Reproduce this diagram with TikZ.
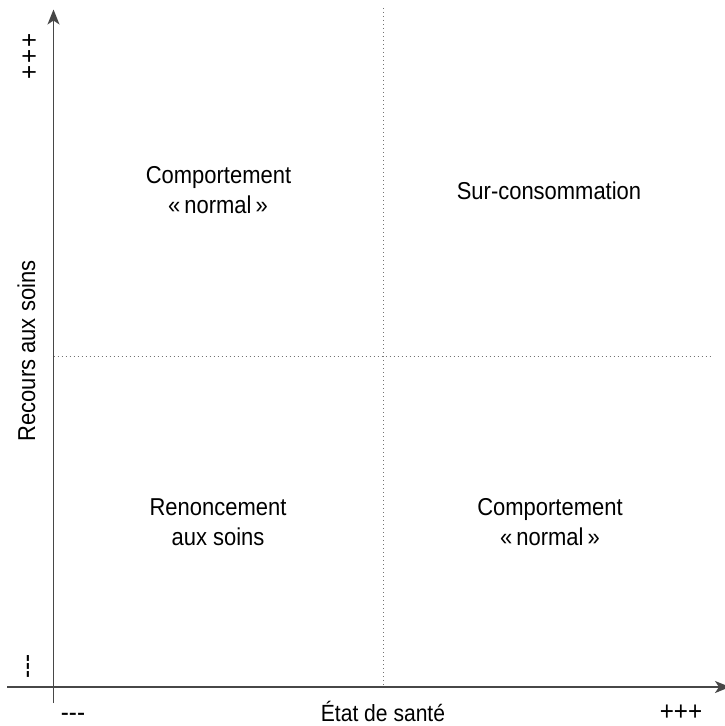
\documentclass[tikz,border=0pt]{standalone}
\usepackage{fontspec}
\setmainfont{Liberation Sans}[FakeStretch=0.9]
\usetikzlibrary{arrows.meta}
\begin{document}
\begin{tikzpicture}[x=1bp,y=-1bp,
  axis/.style={line width=1.7bp, draw=black!72},
  axistip/.style={-{Stealth[length=15bp,width=12bp,inset=4bp]}},
  griddot/.style={line width=1bp, draw=black!55, dash pattern=on 1bp off 3bp},
  lab/.style={inner sep=0pt, font=\fontsize{24.5}{30}\selectfont},
  signs/.style={inner sep=0pt, font=\fontsize{27}{30}\selectfont},
]
\useasboundingbox (0,0) rectangle (725,726);
\coordinate (ytop) at (53.5,9.5);
\coordinate (ybot) at (53.5,703);
\coordinate (xl) at (7,687);
\coordinate (xr) at (730,687);
\coordinate (vt) at (383.5,8);
\coordinate (vb) at (383.5,687);
\coordinate (hl) at (53.5,356.5);
\coordinate (hr) at (712,356.5);
\draw[griddot] (vt) -- (vb);
\draw[griddot] (hl) -- (hr);
\draw[axis,axistip] (ybot) -- (ytop);
\draw[axis,axistip] (xl) -- (xr);
\node[lab,anchor=base] (tl1) at (218.5,183.3) {Comportement};
\node[lab,anchor=base] (tl2) at (218,213.3) {«\,normal\,»};
\node[lab,anchor=base] (tr) at (549,199.3) {Sur-consommation};
\node[lab,anchor=base] (bl1) at (218,515) {Renoncement};
\node[lab,anchor=base] (bl2) at (218,545) {aux soins};
\node[lab,anchor=base] (br1) at (550,515) {Comportement};
\node[lab,anchor=base] (br2) at (550,545) {«\,normal\,»};
\node[lab,anchor=base,font=\fontsize{23.5}{30}\selectfont] (xlab) at (383,721) {État de santé};
\node[signs,anchor=base] (xmin) at (73,721) {-{}-{}-};
\node[signs,anchor=base,text depth=0pt] (xmax) at (681,720) {+++};
\node[lab,anchor=base,rotate=90] (ylab) at (35,351) {Recours aux soins};
\node[signs,anchor=base,rotate=90] (ymax) at (38,56.5) {+\kern2bp+\kern2bp+};
\node[signs,anchor=base,rotate=90] (ymin) at (35,666.5) {-{}-{}-};
\end{tikzpicture}
\end{document}
